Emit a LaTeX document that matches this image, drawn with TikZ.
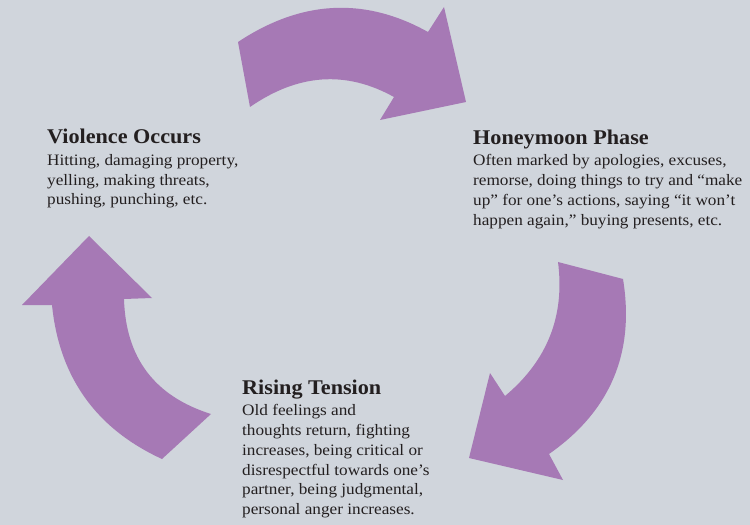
\documentclass[tikz,border=0pt]{standalone}
\usepackage{fontspec}
\setmainfont[FakeStretch=1.08]{Liberation Serif}
\newfontfamily\headfont[FakeStretch=1.06]{Liberation Serif}
\definecolor{bg}{HTML}{D0D5DC}
\definecolor{cyclepurple}{HTML}{A679B5}
\definecolor{ink}{HTML}{231F20}
\tikzset{
  cyclearrow/.style={fill=cyclepurple, draw=none},
  phase/.style={anchor=north west, inner sep=0pt, align=left, text=ink,
    font=\fontsize{16}{19.8}\selectfont},
}
\newcommand{\phasetitle}[1]{{\headfont\fontsize{21}{22}\selectfont\bfseries #1}}

\begin{document}
\begin{tikzpicture}[x=1bp,y=-1bp]
  % page and background
  \fill[bg] (0,0) rectangle (750,525);
  \useasboundingbox (0,0) rectangle (750,525);

  % top arrow: violence -> honeymoon
  \fill[cyclearrow] (238,42) .. controls (301.3,0) and (364.7,-3.3) .. (428,32)
    -- (444,7) -- (466,102) -- (380,120) -- (394,97)
    .. controls (346,70.3) and (298,73.7) .. (250,107) -- cycle;

  % right arrow: honeymoon -> rising tension
  \fill[cyclearrow] (623,279) .. controls (635,352.7) and (610.5,411) .. (549,454)
    -- (563,480) -- (469,458) -- (490,373) -- (505,396)
    .. controls (547.3,360.7) and (565,316) .. (558,262) -- cycle;

  % left arrow: rising tension -> violence
  \fill[cyclearrow] (89,236) -- (152,298) -- (124,299)
    .. controls (125.7,358) and (154.7,396.3) .. (211,414)
    -- (162,459)
    .. controls (96,428.6) and (59.3,377.3) .. (52,305)
    -- (22,305) -- cycle;

  % phase descriptions
  \node[phase] (violence) at (47,129)
    {\phasetitle{Violence Occurs}\\[2pt]
     Hitting, damaging property,\\
     yelling, making threats,\\
     pushing, punching, etc.};
  \node[phase] (honeymoon) at (473,129.5)
    {\phasetitle{Honeymoon Phase}\\[2pt]
     Often marked by apologies, excuses,\\
     remorse, doing things to try and “make\\
     up” for one’s actions, saying “it won’t\\
     happen again,” buying presents, etc.};
  \node[phase] (tension) at (242,379.5)
    {\phasetitle{Rising Tension}\\[2pt]
     Old feelings and\\
     thoughts return, fighting\\
     increases, being critical or\\
     disrespectful towards one’s\\
     partner, being judgmental,\\
     personal anger increases.};
\end{tikzpicture}
\end{document}
